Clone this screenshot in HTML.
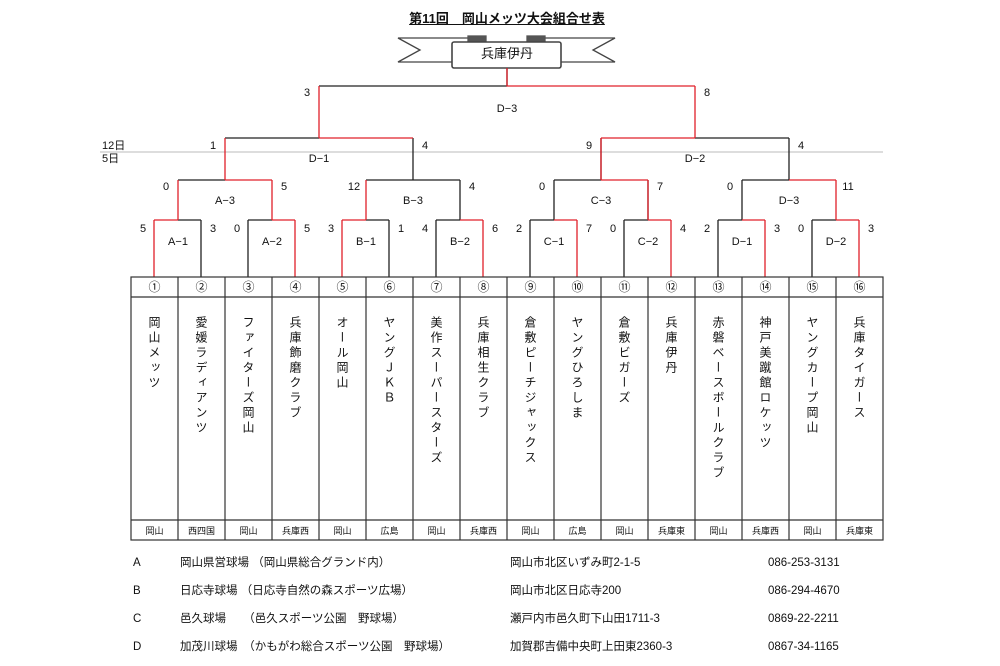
<!DOCTYPE html>
<html><head><meta charset="utf-8"><style>
body{margin:0;background:#fff;width:1000px;height:666px;position:relative;overflow:hidden;font-family:"Liberation Sans","Noto Sans CJK JP",sans-serif;color:#111}
.t{position:absolute;font-size:11px;line-height:12px;white-space:nowrap}
.c{transform:translateX(-50%)}
.v{position:absolute;top:316px;writing-mode:vertical-rl;font-size:12px;letter-spacing:3px;transform:translateX(-50%)}
.f{position:absolute;font-size:11.5px;line-height:14px;height:14px;white-space:nowrap}
</style></head><body>
<svg width="1000" height="666" style="position:absolute;left:0;top:0">
<g fill="none" stroke-width="1.3">
<polygon points="398,38 470,38 470,62 398,62 420,50" fill="#fff" stroke="#444"/>
<polygon points="615,38 540,38 540,62 615,62 593,50" fill="#fff" stroke="#444"/>
<rect x="468" y="36" width="18" height="6" fill="#555" stroke="#555"/>
<rect x="527" y="36" width="18" height="6" fill="#555" stroke="#555"/>
<rect x="452" y="42" width="109" height="26" rx="2" fill="#fff" stroke="#444" stroke-width="1.6"/>
<line x1="100" y1="152" x2="883" y2="152" stroke="#bbb" stroke-width="1"/>
<g stroke="#222">
<path d="M319,86H507 M507,68V86"/>
<path d="M225,138H319 M695,138H789 M789,138V180 M413,138V180 M601,138V180"/>
<path d="M178,180H225 M413,180H460 M460,180V220 M366,180H413 M554,180H601 M648,180V220 M742,180H789 M836,180H836"/>
<path d="M178,220H201 M201,220V277 M248,220H272 M248,220V277 M366,220H389 M389,220V277 M436,220H460 M436,220V277 M530,220H554 M530,220V277 M624,220H648 M624,220V277 M718,220H742 M718,220V277 M812,220H836 M812,220V277 M742,180V220 M554,180V220"/>
</g>
<g stroke="#e0202a">
<path d="M507,68V86H695 M695,86V138 M319,86V138"/>
<path d="M319,138H413 M225,138V180 M601,138H695 M601,138V180"/>
<path d="M225,180H272 M272,180V220 M366,180V220 M601,180H648 M648,180V220 M789,180H836 M836,180V220 M178,180V220"/>
<path d="M154,220H178 M154,220V277 M272,220H295 M295,220V277 M342,220H366 M342,220V277 M460,220H483 M483,220V277 M554,220H577 M577,220V277 M648,220H671 M671,220V277 M742,220H765 M765,220V277 M836,220H859 M859,220V277"/>
</g>
<g stroke="#333" stroke-width="1.2">
<rect x="131" y="277" width="752" height="263"/>
<line x1="131" y1="297" x2="883" y2="297"/>
<line x1="131" y1="520" x2="883" y2="520"/>
<path d="M178,277V540 M225,277V540 M272,277V540 M319,277V540 M366,277V540 M413,277V540 M460,277V540 M507,277V540 M554,277V540 M601,277V540 M648,277V540 M695,277V540 M742,277V540 M789,277V540 M836,277V540"/>
</g>
</g>
</svg>
<div class="t c" style="left:507px;top:13px;font-size:13px;font-weight:bold;text-decoration:underline">第11回　岡山メッツ大会組合せ表</div>
<div class="t c" style="left:507px;top:48px;font-size:13px">兵庫伊丹</div>
<div class="t" style="left:102px;top:140px">12日</div>
<div class="t" style="left:102px;top:153px">5日</div>
<div class="t c" style="left:307px;top:87px">3</div><div class="t c" style="left:707px;top:87px">8</div>
<div class="t c" style="left:507px;top:103px">D−3</div>
<div class="t c" style="left:213px;top:140px">1</div><div class="t c" style="left:425px;top:140px">4</div>
<div class="t c" style="left:319px;top:153px">D−1</div>
<div class="t c" style="left:589px;top:140px">9</div><div class="t c" style="left:801px;top:140px">4</div>
<div class="t c" style="left:695px;top:153px">D−2</div>
<div class="t c" style="left:166px;top:181px">0</div><div class="t c" style="left:284px;top:181px">5</div><div class="t c" style="left:225px;top:195px">A−3</div>
<div class="t c" style="left:354px;top:181px">12</div><div class="t c" style="left:472px;top:181px">4</div><div class="t c" style="left:413px;top:195px">B−3</div>
<div class="t c" style="left:542px;top:181px">0</div><div class="t c" style="left:660px;top:181px">7</div><div class="t c" style="left:601px;top:195px">C−3</div>
<div class="t c" style="left:730px;top:181px">0</div><div class="t c" style="left:848px;top:181px">11</div><div class="t c" style="left:789px;top:195px">D−3</div>
<div class="t c" style="left:143px;top:223px">5</div><div class="t c" style="left:213px;top:223px">3</div><div class="t c" style="left:178px;top:236px">A−1</div>
<div class="t c" style="left:237px;top:223px">0</div><div class="t c" style="left:307px;top:223px">5</div><div class="t c" style="left:272px;top:236px">A−2</div>
<div class="t c" style="left:331px;top:223px">3</div><div class="t c" style="left:401px;top:223px">1</div><div class="t c" style="left:366px;top:236px">B−1</div>
<div class="t c" style="left:425px;top:223px">4</div><div class="t c" style="left:495px;top:223px">6</div><div class="t c" style="left:460px;top:236px">B−2</div>
<div class="t c" style="left:519px;top:223px">2</div><div class="t c" style="left:589px;top:223px">7</div><div class="t c" style="left:554px;top:236px">C−1</div>
<div class="t c" style="left:613px;top:223px">0</div><div class="t c" style="left:683px;top:223px">4</div><div class="t c" style="left:648px;top:236px">C−2</div>
<div class="t c" style="left:707px;top:223px">2</div><div class="t c" style="left:777px;top:223px">3</div><div class="t c" style="left:742px;top:236px">D−1</div>
<div class="t c" style="left:801px;top:223px">0</div><div class="t c" style="left:871px;top:223px">3</div><div class="t c" style="left:836px;top:236px">D−2</div>
<div class="t c" style="left:154.5px;top:281px;font-size:12px">①</div><div class="t c" style="left:201.5px;top:281px;font-size:12px">②</div><div class="t c" style="left:248.5px;top:281px;font-size:12px">③</div><div class="t c" style="left:295.5px;top:281px;font-size:12px">④</div><div class="t c" style="left:342.5px;top:281px;font-size:12px">⑤</div><div class="t c" style="left:389.5px;top:281px;font-size:12px">⑥</div><div class="t c" style="left:436.5px;top:281px;font-size:12px">⑦</div><div class="t c" style="left:483.5px;top:281px;font-size:12px">⑧</div><div class="t c" style="left:530.5px;top:281px;font-size:12px">⑨</div><div class="t c" style="left:577.5px;top:281px;font-size:12px">⑩</div><div class="t c" style="left:624.5px;top:281px;font-size:12px">⑪</div><div class="t c" style="left:671.5px;top:281px;font-size:12px">⑫</div><div class="t c" style="left:718.5px;top:281px;font-size:12px">⑬</div><div class="t c" style="left:765.5px;top:281px;font-size:12px">⑭</div><div class="t c" style="left:812.5px;top:281px;font-size:12px">⑮</div><div class="t c" style="left:859.5px;top:281px;font-size:12px">⑯</div>
<div class="v" style="left:154.5px">岡山メッツ</div>
<div class="v" style="left:201.5px">愛媛ラディアンツ</div>
<div class="v" style="left:248.5px">ファイターズ岡山</div>
<div class="v" style="left:295.5px">兵庫飾磨クラブ</div>
<div class="v" style="left:342.5px">オール岡山</div>
<div class="v" style="left:389.5px">ヤングＪＫＢ</div>
<div class="v" style="left:436.5px">美作スーパースターズ</div>
<div class="v" style="left:483.5px">兵庫相生クラブ</div>
<div class="v" style="left:530.5px">倉敷ピーチジャックス</div>
<div class="v" style="left:577.5px">ヤングひろしま</div>
<div class="v" style="left:624.5px">倉敷ビガーズ</div>
<div class="v" style="left:671.5px">兵庫伊丹</div>
<div class="v" style="left:718.5px">赤磐ベースボールクラブ</div>
<div class="v" style="left:765.5px">神戸美蹴館ロケッツ</div>
<div class="v" style="left:812.5px">ヤングカープ岡山</div>
<div class="v" style="left:859.5px">兵庫タイガース</div>
<div class="t c" style="left:154.5px;top:525px;font-size:9px">岡山</div><div class="t c" style="left:201.5px;top:525px;font-size:9px">西四国</div><div class="t c" style="left:248.5px;top:525px;font-size:9px">岡山</div><div class="t c" style="left:295.5px;top:525px;font-size:9px">兵庫西</div><div class="t c" style="left:342.5px;top:525px;font-size:9px">岡山</div><div class="t c" style="left:389.5px;top:525px;font-size:9px">広島</div><div class="t c" style="left:436.5px;top:525px;font-size:9px">岡山</div><div class="t c" style="left:483.5px;top:525px;font-size:9px">兵庫西</div><div class="t c" style="left:530.5px;top:525px;font-size:9px">岡山</div><div class="t c" style="left:577.5px;top:525px;font-size:9px">広島</div><div class="t c" style="left:624.5px;top:525px;font-size:9px">岡山</div><div class="t c" style="left:671.5px;top:525px;font-size:9px">兵庫東</div><div class="t c" style="left:718.5px;top:525px;font-size:9px">岡山</div><div class="t c" style="left:765.5px;top:525px;font-size:9px">兵庫西</div><div class="t c" style="left:812.5px;top:525px;font-size:9px">岡山</div><div class="t c" style="left:859.5px;top:525px;font-size:9px">兵庫東</div>
<div class="f" style="left:133px;top:556px">A</div><div class="f" style="left:180px;top:556px">岡山県営球場 （岡山県総合グランド内）</div><div class="f" style="left:510px;top:556px">岡山市北区いずみ町2-1-5</div><div class="f" style="left:768px;top:556px">086-253-3131</div>
<div class="f" style="left:133px;top:584px">B</div><div class="f" style="left:180px;top:584px">日応寺球場 （日応寺自然の森スポーツ広場）</div><div class="f" style="left:510px;top:584px">岡山市北区日応寺200</div><div class="f" style="left:768px;top:584px">086-294-4670</div>
<div class="f" style="left:133px;top:612px">C</div><div class="f" style="left:180px;top:612px">邑久球場　　（邑久スポーツ公園　野球場）</div><div class="f" style="left:510px;top:612px">瀬戸内市邑久町下山田1711-3</div><div class="f" style="left:768px;top:612px">0869-22-2211</div>
<div class="f" style="left:133px;top:640px">D</div><div class="f" style="left:180px;top:640px">加茂川球場　（かもがわ総合スポーツ公園　野球場）</div><div class="f" style="left:510px;top:640px">加賀郡吉備中央町上田東2360-3</div><div class="f" style="left:768px;top:640px">0867-34-1165</div>
</body></html>
